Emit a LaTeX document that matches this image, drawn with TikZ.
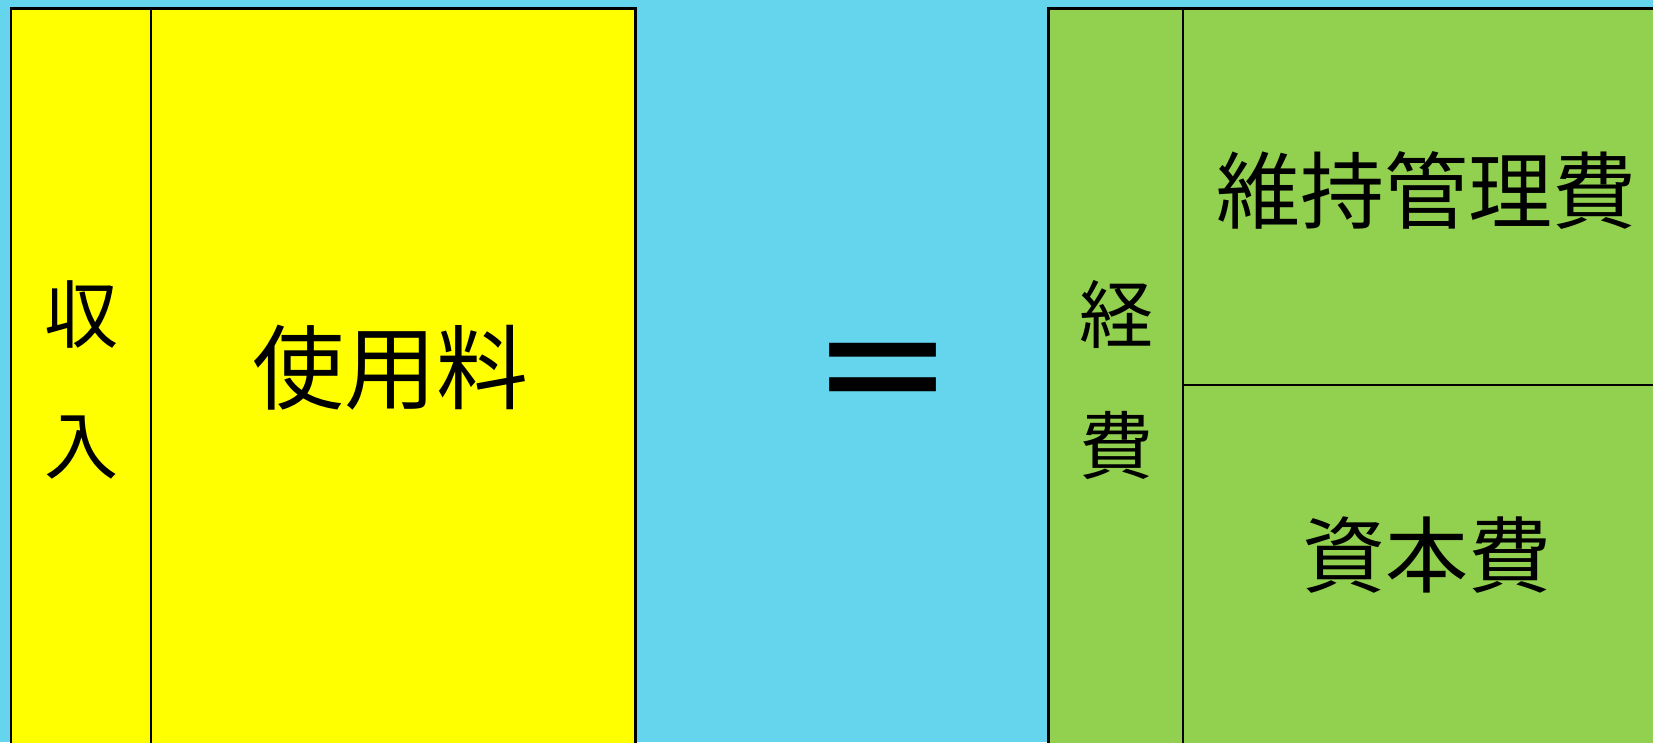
\documentclass[tikz,border=0pt]{standalone}
\usepackage{fontspec}
\setmainfont{Noto Sans CJK JP}
\newfontfamily\eqfont{Noto Sans CJK JP Bold}
\definecolor{bgcyan}{RGB}{101,213,238}
\definecolor{boxyellow}{RGB}{255,255,0}
\definecolor{boxgreen}{RGB}{146,208,80}
\tikzset{
  panel/.style={draw=black, line width=2.7pt},
  divline/.style={draw=black, line width=2.7pt},
  lbl/.style={inner sep=0pt, anchor=base, text=black},
}
\begin{document}
\begin{tikzpicture}[x=1pt,y=-1pt]
\fill[bgcyan] (0,0) rectangle (1653,742);
\useasboundingbox (0,0) rectangle (1653,742);
\clip (0,0) rectangle (1653,742);
% left panel
\draw[panel, fill=boxyellow] (11,8.7) rectangle (635.5,780);
\coordinate (ldt) at (151,8.7);
\coordinate (ldb) at (151,780);
\draw[divline] (ldt) -- (ldb);
% right panel
\draw[panel, fill=boxgreen] (1048.7,8.7) rectangle (1700,780);
\coordinate (rdt) at (1183,8.7);
\coordinate (rdb) at (1183,780);
\draw[divline] (rdt) -- (rdb);
\coordinate (rhl) at (1183,385);
\coordinate (rhr) at (1700,385);
\draw[divline] (rhl) -- (rhr);
% labels
\node[lbl, font=\fontsize{74}{74}\selectfont] (shu) at (81,342) {収};
\node[lbl, font=\fontsize{74}{74}\selectfont] (nyu) at (81,473) {入};
\node[lbl, font=\fontsize{92}{92}\selectfont] (shiyo) at (390,402) {使用料};
\node[lbl, font=\fontsize{150}{150}\selectfont\eqfont, xscale=1.39, yscale=0.89] (eq) at (882.5,417) {=};
\node[lbl, font=\fontsize{74}{74}\selectfont] (kei) at (1116,342) {経};
\node[lbl, font=\fontsize{74}{74}\selectfont] (hi) at (1116,473) {費};
\node[lbl, font=\fontsize{84}{84}\selectfont] (iji) at (1426,222) {維持管理費};
\node[lbl, font=\fontsize{83}{83}\selectfont] (shihon) at (1427,586) {資本費};
\end{tikzpicture}
\end{document}
